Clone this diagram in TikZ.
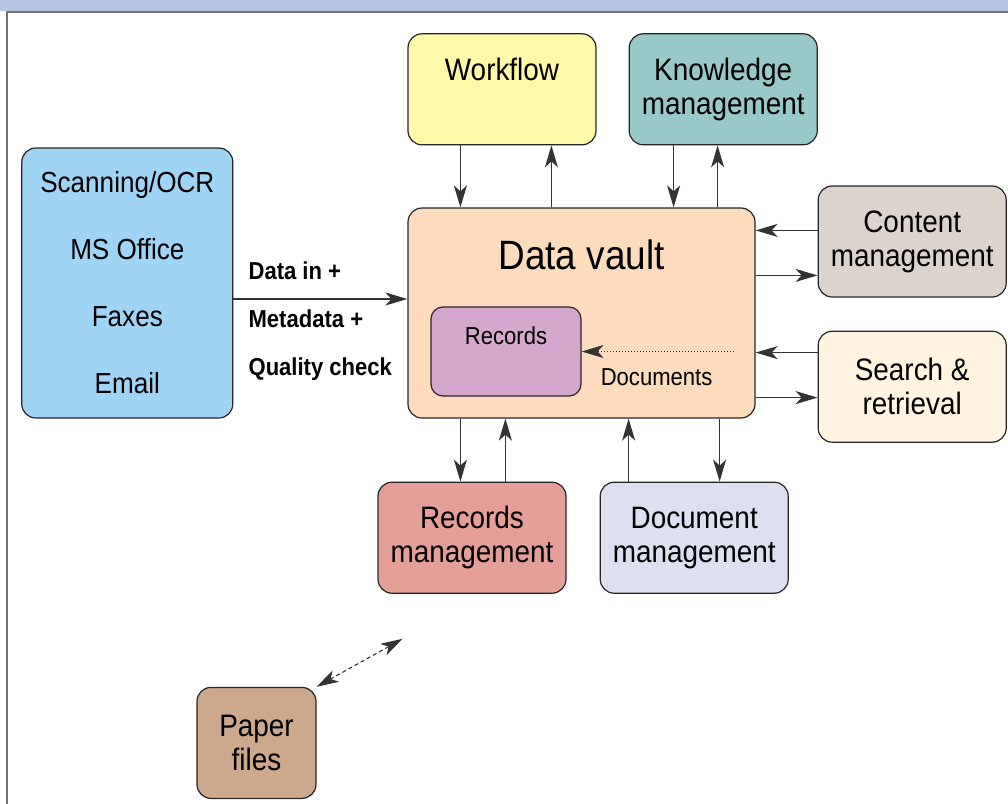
\documentclass[tikz,border=0pt]{standalone}
\usepackage{fontspec}
\setmainfont[FakeStretch=0.9]{Liberation Sans}
\usetikzlibrary{arrows.meta,positioning,calc}

\definecolor{bannerblue}{HTML}{B4C6E4}
\definecolor{inblue}{HTML}{A0D4F4}
\definecolor{wfyellow}{HTML}{FFF8A8}
\definecolor{kmteal}{HTML}{98C8C8}
\definecolor{vaultpeach}{HTML}{FCDCBC}
\definecolor{recpink}{HTML}{D4A8CC}
\definecolor{cmgray}{HTML}{DCD4CC}
\definecolor{srcream}{HTML}{FFF4E0}
\definecolor{rmred}{HTML}{E4A098}
\definecolor{dmblue}{HTML}{DCE0F0}
\definecolor{paperbrown}{HTML}{CCA88C}

\begin{document}
\begin{tikzpicture}[
    node distance=33bp,
    box/.style={rectangle, rounded corners=14bp, draw=black!85, line width=1.2bp, align=center, inner sep=0pt, minimum width=188bp, minimum height=111bp, font=\fontsize{31bp}{34bp}\selectfont},
    lowered/.style={execute at begin node=\rule{0pt}{#1}},
    flow/.style={-{Stealth[length=22bp, width=13bp, inset=6bp]}, line width=1.5bp, draw=black!80},
    lbl/.style={inner sep=0pt, align=left, font=\fontsize{24.5bp}{48bp}\selectfont\bfseries},
]
    \useasboundingbox (0,0) rectangle (1008bp,-804bp);
    \fill[bannerblue] (0,0) rectangle (1008bp,-11bp);
    \draw[black!55, line width=1.3bp] (1008bp,-12bp) -- (7bp,-12bp) -- (7bp,-804bp);

    \node[box, fill=vaultpeach, minimum width=347bp, minimum height=210bp] (vault) at (581.5bp,-313bp) {};
    \node[inner sep=0pt, font=\fontsize{41bp}{44bp}\selectfont] (vaulttitle) at ([yshift=-47bp]vault.north) {Data vault};
    \node[box, lowered=26bp, fill=recpink, minimum width=150bp, minimum height=89bp, rounded corners=12bp, font=\fontsize{24.5bp}{27bp}\selectfont, above right=22bp and 23bp of vault.south west] (records) {Records\\\phantom{g}};

    \node[box, lowered=31bp, fill=wfyellow, above right=62bp and 0bp of vault.north west] (workflow) {Workflow\\\phantom{g}};
    \node[box, lowered=31bp, fill=kmteal, right=32bp of workflow] (knowledge) {Knowledge\\management};
    \node[box, lowered=31bp, fill=cmgray, below right=-22bp and 62bp of vault.north east] (content) {Content\\management};
    \node[box, fill=srcream, below=33bp of content] (search) {Search \&\\retrieval};
    \node[box, lowered=28bp, fill=rmred, below right=63bp and -30bp of vault.south west] (recmgmt) {Records\\management};
    \node[box, lowered=28bp, fill=dmblue, right=33bp of recmgmt] (docmgmt) {Document\\management};
    \node[box, fill=inblue, minimum width=211bp, minimum height=270bp, font=\fontsize{29bp}{67bp}\selectfont, above left=0bp and 174bp of vault.south west] (inputs) {Scanning/OCR\\MS Office\\Faxes\\Email};
    \node[box, fill=paperbrown, minimum width=119bp, below right=93bp and -181bp of recmgmt.south west] (paper) {Paper\\files};

    \node[lbl, anchor=west] (flowlbl) at ([xshift=15bp, yshift=-38bp]inputs.east) {Data in +\\Metadata +\\Quality check};
    \node[inner sep=0pt, anchor=west, font=\fontsize{24.5bp}{27bp}\selectfont] (doclbl) at ([xshift=19bp, yshift=-26bp]records.east) {Documents};
    \coordinate[above right=48bp and 86bp of paper.north east] (papertip);

    \draw[flow] ([yshift=-16bp]inputs.east) -- ([yshift=-16bp]inputs.east -| vault.west);
    \draw[flow] ([xshift=53bp]workflow.south west) -- ([xshift=53bp]workflow.south west |- vault.north);
    \draw[flow] ([xshift=144bp]workflow.south west |- vault.north) -- ([xshift=144bp]workflow.south west);
    \draw[flow] ([xshift=45bp]knowledge.south west) -- ([xshift=45bp]knowledge.south west |- vault.north);
    \draw[flow] ([xshift=89bp]knowledge.south west |- vault.north) -- ([xshift=89bp]knowledge.south west);
    \draw[flow] ([yshift=-45bp]content.north west) -- ([yshift=-45bp]content.north west -| vault.east);
    \draw[flow] ([yshift=-90bp]content.north west -| vault.east) -- ([yshift=-90bp]content.north west);
    \draw[flow] ([yshift=-22bp]search.north west) -- ([yshift=-22bp]search.north west -| vault.east);
    \draw[flow] ([yshift=-67bp]search.north west -| vault.east) -- ([yshift=-67bp]search.north west);
    \draw[flow] ([xshift=83bp]recmgmt.north west |- vault.south) -- ([xshift=83bp]recmgmt.north west);
    \draw[flow] ([xshift=128bp]recmgmt.north west) -- ([xshift=128bp]recmgmt.north west |- vault.south);
    \draw[flow] ([xshift=29bp]docmgmt.north west) -- ([xshift=29bp]docmgmt.north west |- vault.south);
    \draw[flow] ([xshift=120bp]docmgmt.north west |- vault.south) -- ([xshift=120bp]docmgmt.north west);
    \draw[flow, line width=1bp, dotted] ([xshift=-22bp]vault.east |- records.east) -- (records.east);
    \draw[flow, {Stealth[length=22bp, width=13bp, inset=6bp]}-{Stealth[length=22bp, width=13bp, inset=6bp]}, line width=1.1bp, dash pattern=on 4bp off 3bp] (paper.north east) -- (papertip);
\end{tikzpicture}
\end{document}
